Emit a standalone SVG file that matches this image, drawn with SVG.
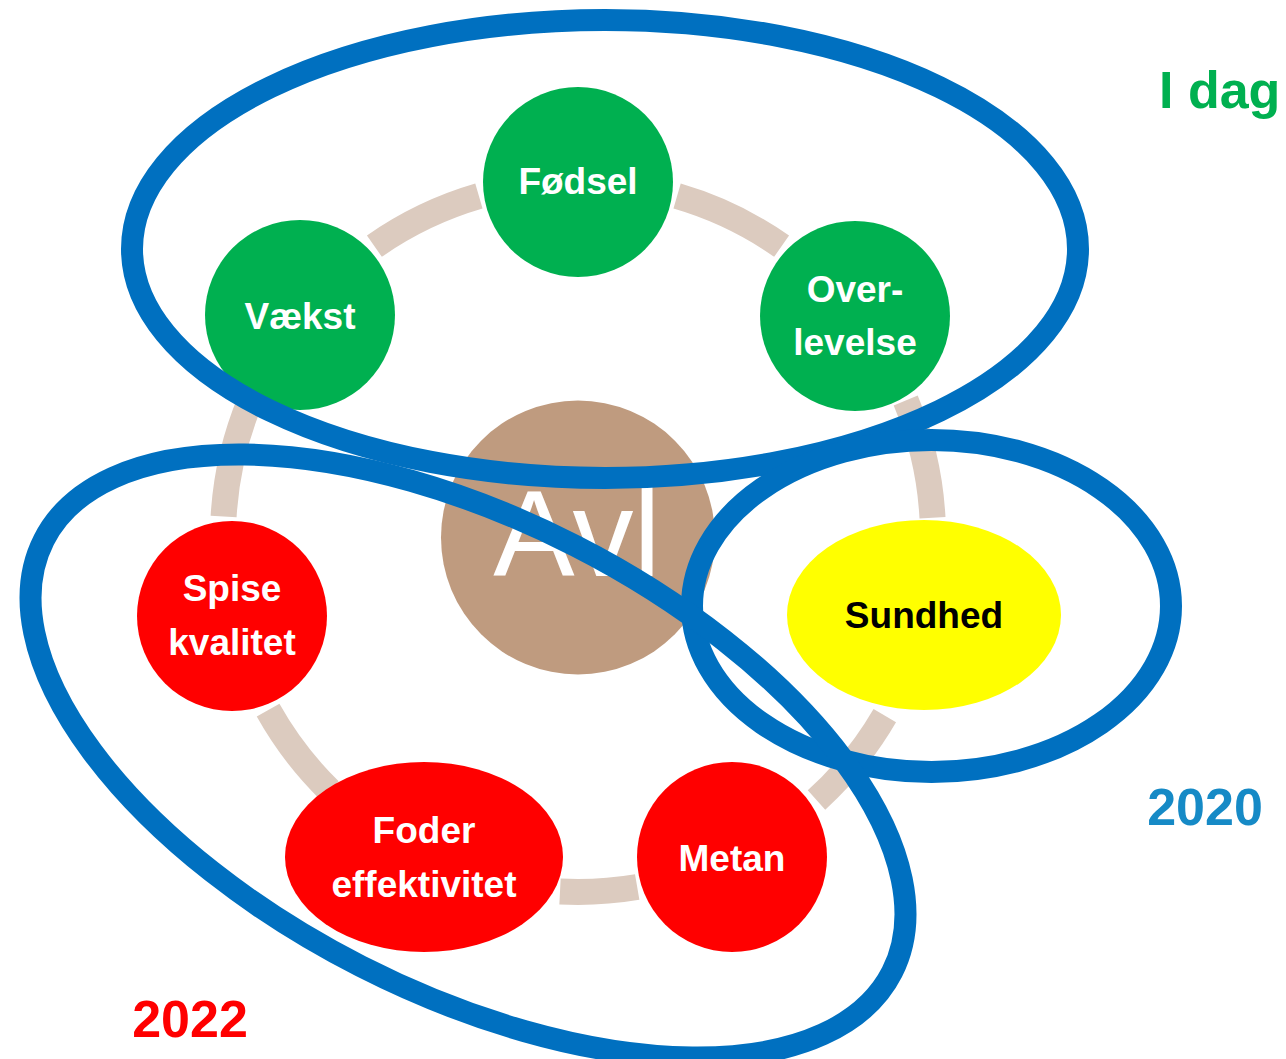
<svg xmlns="http://www.w3.org/2000/svg" width="1286" height="1059" viewBox="0 0 1286 1059">
<style>
.arc{fill:none;stroke:#dccbbf;stroke-width:26;stroke-linecap:butt}
.g{fill:#00b050}
.r{fill:#ff0000}
.y{fill:#ffff00}
.t{font-family:"Liberation Sans",Arial,sans-serif;font-weight:bold;font-size:37px;text-anchor:middle;fill:#ffffff}
.tk{fill:#000000}
.ring{fill:none;stroke:#0070c0;stroke-width:22}
.lab{font-family:"Liberation Sans",Arial,sans-serif;font-weight:bold;font-size:52px}
</style>
<rect width="1286" height="1059" fill="#ffffff"/>
<g id="connectors">
<path class="arc" d="M677.1,196.1 A355,355 0 0 1 781.6,246.2"/>
<path class="arc" d="M905.7,400.6 A355,355 0 0 1 932.5,517.8"/>
<path class="arc" d="M884.8,715.6 A355,355 0 0 1 816.5,800.0"/>
<path class="arc" d="M637.2,887.0 A355,355 0 0 1 560.0,891.5"/>
<path class="arc" d="M329.6,790.6 A355,355 0 0 1 268.1,710.2"/>
<path class="arc" d="M223.6,516.6 A355,355 0 0 1 250.3,400.6"/>
<path class="arc" d="M374.4,246.2 A355,355 0 0 1 478.9,196.1"/>
</g>
<g id="avl">
<circle cx="578" cy="537.5" r="137" fill="#bf9b7f"/>
<text x="577" y="576" font-family="'Liberation Sans',Arial,sans-serif" font-size="122" text-anchor="middle" fill="#ffffff">Avl</text>
</g>
<g id="fodsel">
<circle class="g" cx="578" cy="182" r="95"/>
<text class="t" x="578" y="194">Fødsel</text>
</g>
<g id="overlevelse">
<circle class="g" cx="855" cy="316" r="95"/>
<text class="t" x="855" y="302">Over-</text>
<text class="t" x="855" y="355">levelse</text>
</g>
<g id="sundhed">
<ellipse class="y" cx="924" cy="615" rx="137" ry="95"/>
<text class="t tk" x="924" y="628">Sundhed</text>
</g>
<g id="metan">
<circle class="r" cx="732" cy="857" r="95"/>
<text class="t" x="732" y="871">Metan</text>
</g>
<g id="foder">
<ellipse class="r" cx="424" cy="857" rx="139" ry="95"/>
<text class="t" x="424" y="843">Foder</text>
<text class="t" x="424" y="897">effektivitet</text>
</g>
<g id="spise">
<circle class="r" cx="232" cy="616" r="95"/>
<text class="t" x="232" y="601">Spise</text>
<text class="t" x="232" y="655">kvalitet</text>
</g>
<g id="vaekst">
<circle class="g" cx="300" cy="315" r="95"/>
<text class="t" x="300" y="329">Vækst</text>
</g>
<g id="groups">
<ellipse id="idag-ring" class="ring" cx="605" cy="249" rx="473" ry="229"/>
<ellipse id="ring-2020" class="ring" cx="931.5" cy="606" rx="239.5" ry="166"/>
<ellipse id="ring-2022" class="ring" cx="0" cy="0" rx="476" ry="236" transform="translate(468,756) rotate(27)"/>
</g>
<g id="labels">
<text class="lab" x="1159" y="108" fill="#00b050">I dag</text>
<text class="lab" x="1205" y="825" text-anchor="middle" fill="#168ac6">2020</text>
<text class="lab" x="190" y="1037" text-anchor="middle" fill="#ff0000">2022</text>
</g>
</svg>
